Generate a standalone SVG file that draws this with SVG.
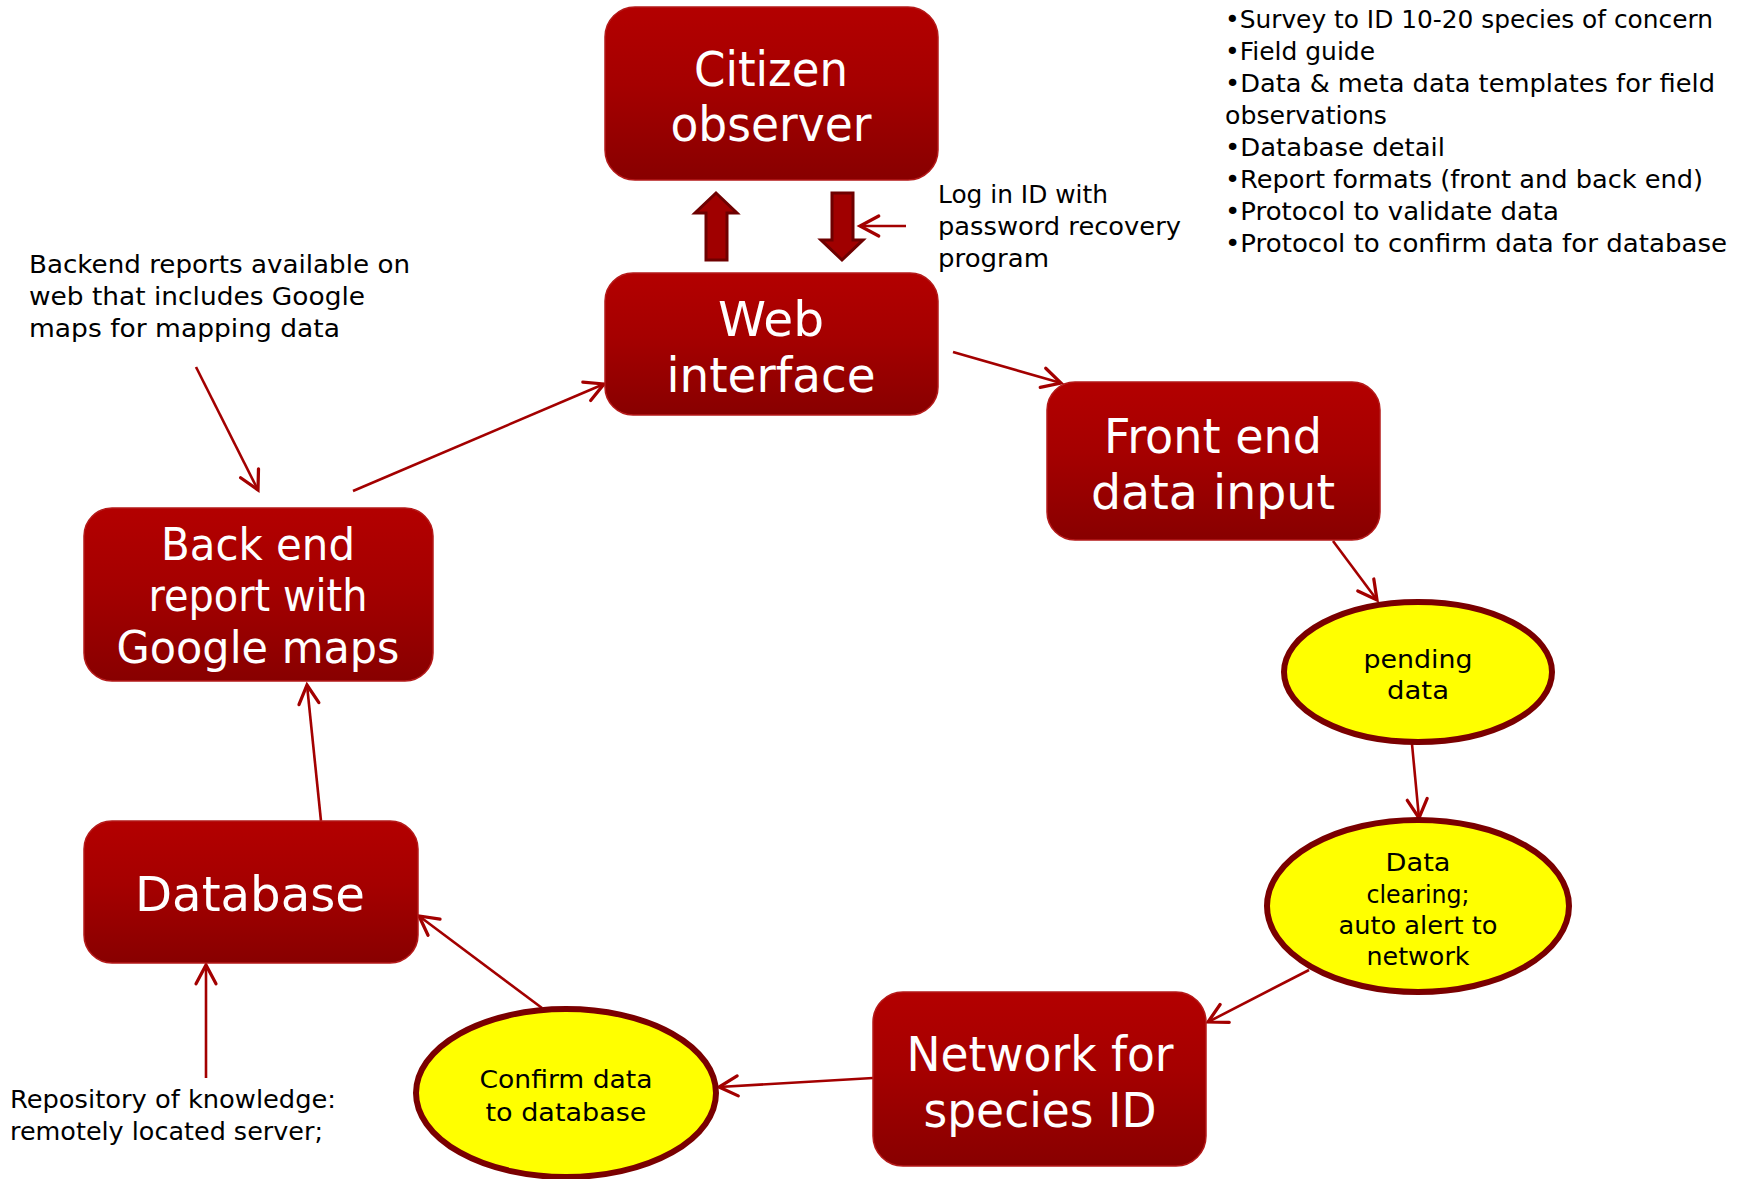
<svg xmlns="http://www.w3.org/2000/svg" width="1746" height="1179" viewBox="0 0 1746 1179">
<defs>
<linearGradient id="boxgrad" x1="0" y1="0" x2="0" y2="1">
<stop offset="0" stop-color="#B30000"/>
<stop offset="0.45" stop-color="#A50000"/>
<stop offset="1" stop-color="#880000"/>
</linearGradient>
<marker id="vhead" markerUnits="userSpaceOnUse" markerWidth="30" markerHeight="30" refX="0" refY="0" viewBox="-20 -12 24 24" orient="auto" overflow="visible">
<path d="M -15 -8 L 0 0 L -15 8" fill="none" stroke="#A30000" stroke-width="2.6" stroke-linecap="round" stroke-linejoin="miter"/>
</marker>
<style>
.box{fill:url(#boxgrad);stroke:#B41A1A;stroke-width:1.5}
.ell{fill:#FFFF00;stroke:#7A0000;stroke-width:6}
.bt{font-family:"DejaVu Sans",sans-serif;fill:#FFFFFF;font-size:48px;text-anchor:middle}
.bts{font-family:"DejaVu Sans",sans-serif;fill:#FFFFFF;font-size:44px;text-anchor:middle}
.et{font-family:"DejaVu Sans",sans-serif;fill:#000000;font-size:24px;text-anchor:middle}
.at{font-family:"DejaVu Sans",sans-serif;fill:#000000;font-size:25px}
.con{stroke:#A30000;stroke-width:2.6;fill:none;marker-end:url(#vhead)}
.blk{fill:#A00000;stroke:#6E0000;stroke-width:3;stroke-linejoin:miter}
</style>
</defs>
<rect width="1746" height="1179" fill="#FFFFFF"/>

<g id="connectors">
<line class="con" x1="953" y1="352" x2="1061" y2="383"/>
<line class="con" x1="1333" y1="541" x2="1377" y2="600"/>
<line class="con" x1="1412" y1="744" x2="1419" y2="818"/>
<line class="con" x1="1309" y1="970" x2="1208" y2="1022"/>
<line class="con" x1="873" y1="1078" x2="719" y2="1087"/>
<line class="con" x1="542" y1="1008" x2="419" y2="916"/>
<line class="con" x1="206" y1="1078" x2="206" y2="965"/>
<line class="con" x1="321" y1="821" x2="307" y2="685"/>
<line class="con" x1="353" y1="491" x2="604" y2="384"/>
<line class="con" x1="196" y1="367" x2="258" y2="490"/>
<line class="con" x1="906" y1="226" x2="860" y2="226"/>
<path id="arrow-up" class="blk" d="M 716 193 L 737 213 L 727 213 L 727 260 L 706 260 L 706 213 L 695 213 Z"/>
<path id="arrow-down" class="blk" d="M 832 193 L 853 193 L 853 240 L 863 240 L 842 260 L 821 240 L 832 240 Z"/>
</g>

<g id="citizen-observer">
<rect class="box" x="605" y="7" width="333" height="173" rx="30"/>
<text class="bt" x="771" y="86" textLength="154" lengthAdjust="spacingAndGlyphs">Citizen</text>
<text class="bt" x="771" y="141" textLength="201" lengthAdjust="spacingAndGlyphs">observer</text>
</g>

<g id="web-interface">
<rect class="box" x="605" y="273" width="333" height="142" rx="28"/>
<text class="bt" x="771" y="336" textLength="106" lengthAdjust="spacingAndGlyphs">Web</text>
<text class="bt" x="771" y="392" textLength="209" lengthAdjust="spacingAndGlyphs">interface</text>
</g>

<g id="front-end">
<rect class="box" x="1047" y="382" width="333" height="158" rx="28"/>
<text class="bt" x="1213" y="453" textLength="218" lengthAdjust="spacingAndGlyphs">Front end</text>
<text class="bt" x="1213" y="509" textLength="244" lengthAdjust="spacingAndGlyphs">data input</text>
</g>

<g id="back-end">
<rect class="box" x="84" y="508" width="349" height="173" rx="28"/>
<text class="bts" x="258" y="560" textLength="194" lengthAdjust="spacingAndGlyphs">Back end</text>
<text class="bts" x="258" y="611" textLength="219" lengthAdjust="spacingAndGlyphs">report with</text>
<text class="bts" x="258" y="663" textLength="283" lengthAdjust="spacingAndGlyphs">Google maps</text>
</g>

<g id="database">
<rect class="box" x="84" y="821" width="334" height="142" rx="28"/>
<text class="bt" x="250" y="911" textLength="230" lengthAdjust="spacingAndGlyphs">Database</text>
</g>

<g id="network">
<rect class="box" x="873" y="992" width="333" height="174" rx="30"/>
<text class="bt" x="1040" y="1071" textLength="267" lengthAdjust="spacingAndGlyphs">Network for</text>
<text class="bt" x="1040" y="1127" textLength="233" lengthAdjust="spacingAndGlyphs">species ID</text>
</g>

<g id="pending-data">
<ellipse class="ell" cx="1418" cy="672" rx="134" ry="70"/>
<text class="et" x="1418" y="668" textLength="109" lengthAdjust="spacingAndGlyphs">pending</text>
<text class="et" x="1418" y="699" textLength="62" lengthAdjust="spacingAndGlyphs">data</text>
</g>

<g id="data-clearing">
<ellipse class="ell" cx="1418" cy="906" rx="151" ry="86"/>
<text class="et" x="1418" y="871" textLength="65" lengthAdjust="spacingAndGlyphs">Data</text>
<text class="et" x="1418" y="903" textLength="103" lengthAdjust="spacingAndGlyphs">clearing;</text>
<text class="et" x="1418" y="934" textLength="159" lengthAdjust="spacingAndGlyphs">auto alert to</text>
<text class="et" x="1418" y="965" textLength="103" lengthAdjust="spacingAndGlyphs">network</text>
</g>

<g id="confirm-data">
<ellipse class="ell" cx="566" cy="1093" rx="150" ry="84"/>
<text class="et" x="566" y="1088" textLength="173" lengthAdjust="spacingAndGlyphs">Confirm data</text>
<text class="et" x="566" y="1121" textLength="161" lengthAdjust="spacingAndGlyphs">to database</text>
</g>

<g id="login-note">
<text class="at" x="938" y="203" textLength="170" lengthAdjust="spacingAndGlyphs">Log in ID with</text>
<text class="at" x="938" y="235" textLength="243" lengthAdjust="spacingAndGlyphs">password recovery</text>
<text class="at" x="938" y="267" textLength="111" lengthAdjust="spacingAndGlyphs">program</text>
</g>

<g id="backend-note">
<text class="at" x="29" y="273" textLength="381" lengthAdjust="spacingAndGlyphs">Backend reports available on</text>
<text class="at" x="29" y="305" textLength="336" lengthAdjust="spacingAndGlyphs">web that includes Google</text>
<text class="at" x="29" y="337" textLength="311" lengthAdjust="spacingAndGlyphs">maps for mapping data</text>
</g>

<g id="repository-note">
<text class="at" x="10" y="1108" textLength="326" lengthAdjust="spacingAndGlyphs">Repository of knowledge:</text>
<text class="at" x="10" y="1140" textLength="313" lengthAdjust="spacingAndGlyphs">remotely located server;</text>
</g>

<g id="requirements-list">
<text class="at" x="1225" y="28" textLength="488" lengthAdjust="spacingAndGlyphs">•Survey to ID 10-20 species of concern</text>
<text class="at" x="1225" y="60" textLength="150" lengthAdjust="spacingAndGlyphs">•Field guide</text>
<text class="at" x="1225" y="92" textLength="490" lengthAdjust="spacingAndGlyphs">•Data &amp; meta data templates for field</text>
<text class="at" x="1225" y="124" textLength="162" lengthAdjust="spacingAndGlyphs">observations</text>
<text class="at" x="1225" y="156" textLength="220" lengthAdjust="spacingAndGlyphs">•Database detail</text>
<text class="at" x="1225" y="188" textLength="478" lengthAdjust="spacingAndGlyphs">•Report formats (front and back end)</text>
<text class="at" x="1225" y="220" textLength="334" lengthAdjust="spacingAndGlyphs">•Protocol to validate data</text>
<text class="at" x="1225" y="252" textLength="502" lengthAdjust="spacingAndGlyphs">•Protocol to confirm data for database</text>
</g>
</svg>
